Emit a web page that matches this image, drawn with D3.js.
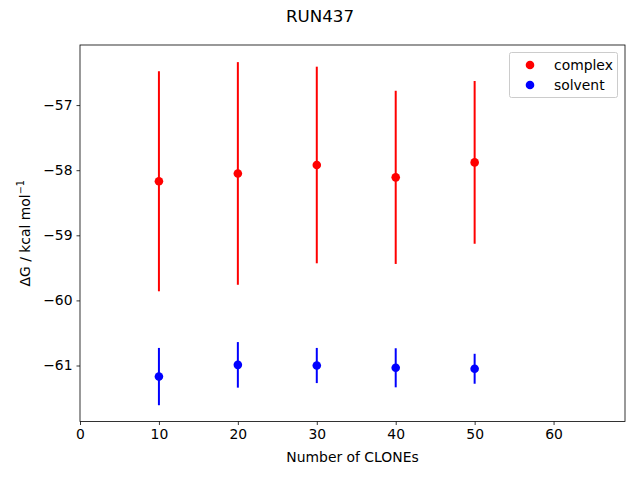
<!DOCTYPE html>
<html><head><meta charset="utf-8">
<script src="https://cdn.jsdelivr.net/npm/d3@7"></script>
<style>body{margin:0;background:#fff}svg{display:block}text{font-family:"DejaVu Sans",sans-serif}</style>
</head><body>
<svg id="c" width="640" height="480"></svg>
<script>
const clones = [10, 20, 30, 40, 50];
const complexMean = [-58.17, -58.05, -57.92, -58.11, -57.88];
const complexErr = [1.69, 1.71, 1.51, 1.33, 1.25];
const solventMean = [-61.17, -60.99, -61.0, -61.035, -61.05];
const solventErr = [0.44, 0.35, 0.27, 0.30, 0.23];
const xTicks = [0, 10, 20, 30, 40, 50, 60];
const yTicks = [-57, -58, -59, -60, -61];
const title = "RUN437";
const xLabel = "Number of CLONEs";

const svg = d3.select("#c");
const L = 80, R = 625, T = 45, B = 421.5;
const x = d3.scaleLinear().domain([0, 69.05]).range([L, R]);
const y = d3.scaleLinear().domain([-61.86, -56.077]).range([B, T]);
const fmt = d => (d < 0 ? "\u2212" : "") + Math.abs(d);

const xa = svg.append("g").attr("transform", `translate(0,${B})`)
  .call(d3.axisBottom(x).tickValues(xTicks).tickFormat(fmt).tickSize(3.5).tickPadding(4));
const ya = svg.append("g").attr("transform", `translate(${L},0)`)
  .call(d3.axisLeft(y).tickValues(yTicks).tickFormat(fmt).tickSize(3.5).tickPadding(4));
[xa, ya].forEach(a => {
  a.select(".domain").remove();
  a.selectAll("line").attr("stroke", "#000").attr("stroke-width", 0.8);
  a.selectAll("text").attr("font-size", 13.9).attr("fill", "#000").style("font-family", "DejaVu Sans");
});
svg.append("rect").attr("x", L).attr("y", T).attr("width", R - L).attr("height", B - T)
  .attr("fill", "none").attr("stroke", "#000").attr("stroke-width", 0.8);

function series(mean, err, color) {
  const g = svg.append("g");
  g.selectAll("line").data(clones).join("line")
    .attr("x1", d => x(d)).attr("x2", d => x(d))
    .attr("y1", (d, i) => y(mean[i] + err[i])).attr("y2", (d, i) => y(mean[i] - err[i]))
    .attr("stroke", color).attr("stroke-width", 2);
  g.selectAll("circle").data(clones).join("circle")
    .attr("cx", d => x(d)).attr("cy", (d, i) => y(mean[i])).attr("r", 4.3).attr("fill", color);
}
series(complexMean, complexErr, "#ff0000");
series(solventMean, solventErr, "#0000ff");

svg.append("text").attr("x", 320).attr("y", 22).attr("text-anchor", "middle")
  .attr("font-size", 16.7).text(title);
svg.append("text").attr("x", (L + R) / 2).attr("y", 462).attr("text-anchor", "middle")
  .attr("font-size", 13.9).text(xLabel);
const yl = svg.append("text").attr("transform", `translate(30,${(T + B) / 2}) rotate(-90)`)
  .attr("text-anchor", "middle").attr("font-size", 13.9);
yl.append("tspan").text("\u0394G / kcal mol");
yl.append("tspan").attr("font-size", 9.7).attr("dy", -6).text("\u22121");

const lg = svg.append("g");
lg.append("rect").attr("x", 509.5).attr("y", 52.5).attr("width", 108).attr("height", 45)
  .attr("rx", 2).attr("fill", "#fff").attr("fill-opacity", 0.8).attr("stroke", "#cccccc").attr("stroke-width", 1);
[["complex", "#ff0000"], ["solvent", "#0000ff"]].forEach(([t, c], i) => {
  lg.append("circle").attr("cx", 530).attr("cy", 65 + i * 20).attr("r", 4.3).attr("fill", c);
  lg.append("text").attr("x", 554).attr("y", 70 + i * 20).attr("font-size", 13.9).text(t);
});
</script>
</body></html>
